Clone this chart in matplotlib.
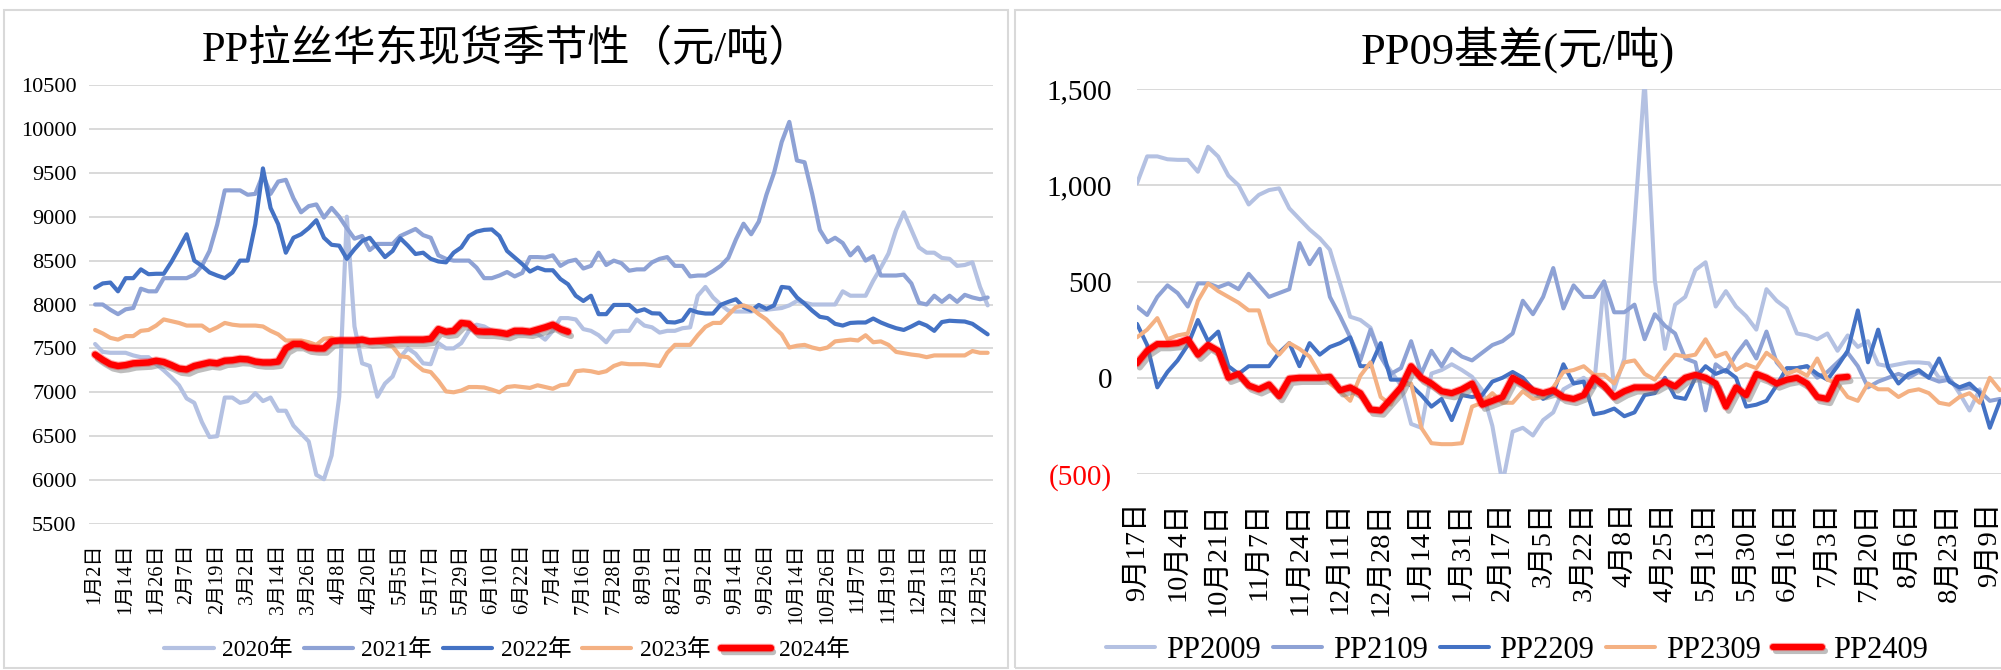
import matplotlib
matplotlib.use('Agg')
import matplotlib.pyplot as plt
import matplotlib.patheffects as pe
from matplotlib.patches import Rectangle
import numpy as np

FONT = ['Liberation Serif', 'Noto Sans CJK SC']
plt.rcParams['font.family'] = FONT

# ---------------- data: left chart (PP拉丝华东现货季节性) ----------------
left_title = 'PP拉丝华东现货季节性（元/吨）'
left_xlabels = ['1月2日', '1月14日', '1月26日', '2月7日', '2月19日', '3月2日', '3月14日',
                '3月26日', '4月8日', '4月20日', '5月5日', '5月17日', '5月29日', '6月10日',
                '6月22日', '7月4日', '7月16日', '7月28日', '8月9日', '8月21日', '9月2日',
                '9月14日', '9月26日', '10月14日', '10月26日', '11月7日', '11月19日',
                '12月1日', '12月13日', '12月25日']
left_yticks = [5500, 6000, 6500, 7000, 7500, 8000, 8500, 9000, 9500, 10000, 10500]

y2020 = [7550, 7460, 7450, 7450, 7450, 7420, 7400, 7400, 7320, 7250,
         7170, 7080, 6930, 6880, 6660, 6490, 6500, 6940, 6940, 6880,
         6900, 6990, 6900, 6940, 6790, 6790, 6620, 6530, 6440, 6060,
         6010, 6280, 6950, 9000, 7750, 7330, 7300, 6950, 7100, 7180,
         7400, 7500, 7440, 7330, 7320, 7560, 7500, 7500, 7560, 7700,
         7770, 7750, 7700, 7670, 7670, 7670, 7670, 7670, 7665,
         7600, 7700, 7845, 7845, 7830, 7720, 7700, 7650, 7570, 7690, 7700,
         7700, 7830, 7760, 7740, 7680, 7700, 7700, 7730, 7740, 8100,
         8200, 8080, 8000, 7930, 7920, 7920, 7920, 7940, 7940, 7950,
         7960, 7990, 8040, 8020, 8000, 8000, 8000, 8000, 8150, 8100,
         8100, 8100, 8270, 8420, 8580, 8850, 9050, 8850, 8650, 8590,
         8590, 8530, 8520, 8440, 8450, 8480, 8200, 7990]
y2021 = [8000, 8000, 7940, 7890, 7945, 7960, 8180, 8150, 8150, 8300,
         8300, 8300, 8300, 8340, 8440, 8610, 8910, 9300, 9300, 9300,
         9250, 9260, 9480, 9260, 9400, 9420, 9210, 9050, 9120, 9140,
         8990, 9100, 9000, 8870, 8750, 8780, 8620, 8690, 8690, 8690,
         8780, 8820, 8860, 8790, 8760, 8560, 8520, 8500, 8500, 8500,
         8420, 8300, 8300, 8330, 8370, 8320, 8360, 8540, 8540,
         8535, 8560, 8440, 8490, 8510, 8410, 8440, 8590, 8450, 8500, 8470,
         8385, 8400, 8400, 8480, 8520, 8540, 8440, 8440, 8320, 8330,
         8330, 8380, 8440, 8530, 8740, 8920, 8800, 8945, 9250, 9500,
         9850, 10080, 9640, 9620, 9260, 8850, 8710, 8760, 8700, 8560,
         8650, 8500, 8550, 8330, 8330, 8330, 8340, 8240, 8020, 8000,
         8100, 8030, 8100, 8030, 8110, 8080, 8060, 8080]
y2022 = [8190, 8240, 8250, 8150, 8300, 8300, 8400, 8345, 8350, 8350,
         8485, 8640, 8800, 8500, 8440, 8365, 8330, 8300, 8365, 8500,
         8500, 8915, 9550, 9100, 8915, 8590, 8760, 8800, 8870, 8960,
         8760, 8680, 8670, 8520, 8630, 8725, 8760, 8650, 8540, 8610,
         8755, 8670, 8575, 8590, 8520, 8490, 8480, 8590, 8650, 8780,
         8830, 8850, 8855, 8780, 8610, 8535, 8460, 8375, 8420,
         8390, 8390, 8290, 8230, 8100, 8040, 8100, 7890, 7890, 7995, 7995,
         7995, 7920, 7945, 7900, 7897, 7800, 7795, 7820, 7940, 7910,
         7897, 7897, 7996, 8030, 8060, 7970, 7930, 7995, 7950, 7990,
         8200, 8190, 8080, 8010, 7930, 7860, 7845, 7780, 7760, 7790,
         7795, 7795, 7840, 7795, 7760, 7730, 7710, 7750, 7795, 7760,
         7700, 7800, 7815, 7810, 7806, 7780, 7720, 7660]
y2023 = [7710, 7670, 7620, 7600, 7640, 7640, 7700, 7710, 7760, 7830,
         7810, 7790, 7760, 7760, 7760, 7700, 7740, 7790, 7770, 7760,
         7760, 7760, 7750, 7700, 7660, 7590, 7590, 7590, 7570, 7540,
         7610, 7620, 7590, 7590, 7600, 7600, 7590, 7570, 7550, 7520,
         7410, 7400, 7320, 7250, 7230, 7130, 7010, 7000, 7020, 7060,
         7060, 7055, 7030, 7000, 7060, 7070, 7060, 7050, 7080,
         7060, 7040, 7080, 7090, 7240, 7250, 7240, 7220, 7240, 7300, 7330,
         7320, 7320, 7320, 7310, 7300, 7450, 7540, 7540, 7540, 7650,
         7745, 7790, 7790, 7880, 7970, 7990, 7960, 7890, 7830, 7740,
         7660, 7510, 7530, 7540, 7510, 7490, 7510, 7580, 7590, 7600,
         7590, 7650, 7570, 7580, 7540, 7460, 7445, 7430, 7420, 7400,
         7420, 7420, 7420, 7420, 7420, 7470, 7450, 7450]
y2024 = [7430, 7370, 7320, 7300, 7310, 7330, 7335, 7340, 7360, 7345,
         7310, 7270, 7260, 7300, 7320, 7340, 7330, 7360, 7365, 7380,
         7375, 7350, 7340, 7340, 7350, 7500, 7550, 7550, 7510, 7500,
         7500, 7580, 7590, 7590, 7590, 7600, 7580, 7585, 7590, 7595,
         7600, 7600, 7600, 7600, 7610, 7720, 7690, 7700, 7790, 7780,
         7695, 7690, 7690, 7680, 7665, 7700, 7700, 7690, 7715,
         7740, 7770, 7720, 7690]
left_series = ['2020年', '2021年', '2022年', '2023年', '2024年']

# ---------------- data: right chart (PP09基差) ----------------
right_title = 'PP09基差(元/吨)'
right_xlabels = ['9月17日', '10月4日', '10月21日', '11月7日', '11月24日', '12月11日',
                 '12月28日', '1月14日', '1月31日', '2月17日', '3月5日', '3月22日',
                 '4月8日', '4月25日', '5月13日', '5月30日', '6月16日', '7月3日',
                 '7月20日', '8月6日', '8月23日', '9月9日']
right_yticks = [-500, 0, 500, 1000, 1500]

pp2009 = [1010, 1150, 1150, 1135, 1132, 1132, 1070, 1200, 1149, 1050,
          1000, 900, 950, 975, 984, 880, 825, 770, 725, 665,
          490, 317, 300, 260, 110, 35, -40, -240, -260, 22,
          40, 70, 40, 5, -65, -250, -550, -280, -260, -300,
          -220, -180, -60, -30, 0, -50, 500, -60, 100, 800,
          1550, 507, 150, 380, 420, 560, 600, 370, 450, 370,
          320, 250, 460, 400, 360, 230, 220, 200, 230, 140,
          220, 160, 190, 70, 60, 70, 80, 80, 75, 0,
          0, -80, -170, -60]
pp2109 = [369, 326, 420, 480, 440, 370, 490, 490, 470, 490,
          460, 540, 480, 420, 440, 460, 700, 590, 670, 420,
          320, 210, 90, 250, 110, 20, 50, 190, 20, 140,
          60, 150, 110, 90, 130, 170, 190, 230, 400, 330,
          420, 570, 360, 480, 420, 420, 500, 340, 340, 380,
          200, 330, 270, 230, 100, 80, -170, 70, 30, 120,
          190, 100, 240, 80, 20, 50, 60, 0, 30, 80,
          130, 60, -50, -20, 0, 20, 0, 30, 0, -20,
          -10, -60, -50, -70, -120, -110]
pp2209 = [280, 170, -50, 30, 90, 170, 300, 190, 240, 60,
          20, 60, 60, 60, 130, 180, 60, 180, 120, 160,
          180, 210, 60, 60, 180, -10, -10, -40, -90, -150,
          -110, -220, -90, -100, -90, -20, 0, 30, 0, -60,
          -110, -80, 70, -30, -20, -190, -180, -160, -200, -180,
          -90, -80, 0, -100, -110, 0, 60, 20, 40, 0,
          -150, -140, -120, -40, 50, 50, 60, 20, -10, 60,
          140, 350, 80, 250, 50, -30, 20, 40, 0, 100,
          -20, -50, -30, -80, -260, -120]
pp2309 = [210, 250, 310, 200, 220, 230, 400, 490, 450, 420,
          390, 350, 350, 180, 120, 180, 150, 110, 20, -30,
          -70, -120, 10, 80, -100, -140, -40, -30, -260, -340,
          -345, -345, -340, -150, -130, -80, -130, -130, -70, -110,
          -100, -50, 30, 40, 60, 15, 15, -30, 80, 90,
          20, -10, 60, 120, 110, 120, 200, 110, 130, 40,
          70, 50, 130, 90, 20, 40, 10, 100, -10, -30,
          -100, -120, -30, -60, -60, -100, -70, -60, -80, -130,
          -140, -100, -80, -130, 0, -65]
pp2409 = [75, 140, 175, 175, 180, 200, 120, 170, 140, 0,
          20, -40, -60, -35, -95, -5, 0, 0, 0, 5,
          -65, -50, -80, -165, -170, -110, -50, 60, 0, -30,
          -70, -80, -60, -30, -140, -120, -100, 0, -30, -65,
          -80, -65, -100, -110, -90, 0, -40, -100, -70, -50,
          -50, -50, -20, -45, 0, 15, 0, -30, -150, -50,
          -90, 20, 0, -30, -10, 0, -30, -100, -110, 0,
          5]
right_series = ['PP2009', 'PP2109', 'PP2209', 'PP2309', 'PP2409']

# ---------------- styles ----------------
colors = ['#B4C1E2', '#8EA2D5', '#4472C4', '#F4B183', '#FF0000']
GRID = '#D9D9D9'
W, H = 2001, 670

def red_effects(lw):
    return [pe.SimpleLineShadow(offset=(2, -3), shadow_color='#7f7f7f', alpha=0.5),
            pe.Stroke(linewidth=lw + 1.5, foreground='#FF0000', alpha=0.35),
            pe.Normal()]

fig = plt.figure(figsize=(W / 100, H / 100), dpi=100)

# chart area borders
fig.add_artist(Rectangle((4 / W, 2 / H), (1008 - 4) / W, (660 - 2) / H, transform=fig.transFigure,
                         fill=False, ec=GRID, lw=1.5))
fig.add_artist(Rectangle((1015 / W, 2 / H), (2030 - 1015) / W, (660 - 2) / H, transform=fig.transFigure,
                         fill=False, ec=GRID, lw=1.5))

# ---------------- left chart ----------------
ax1 = fig.add_axes([89 / W, 1 - 524 / H, (993 - 89) / W, (524 - 85) / H])
left_data = [y2020, y2021, y2022, y2023, y2024]
handles1 = []
for i, (name, ys) in enumerate(zip(left_series, left_data)):
    lw = 4.6 if i == 4 else 3.0
    ln, = ax1.plot(np.arange(len(ys)), ys, color=colors[i], lw=lw, label=name,
                   solid_joinstyle='round', solid_capstyle='round', zorder=2 + i)
    if i == 4:
        ln.set_path_effects(red_effects(lw))
    handles1.append(ln)
ax1.set_xlim(-0.8, 117.7)
ax1.set_ylim(5500, 10500)
ax1.set_yticks(left_yticks)
ax1.set_yticklabels([str(v) for v in left_yticks], fontsize=16)
ax1.set_xticks(np.arange(0, 4 * len(left_xlabels), 4))
ax1.set_xticklabels(left_xlabels, rotation=90, fontsize=14.5)
ax1.tick_params(axis='both', length=0)
ax1.tick_params(axis='y', pad=9)
ax1.tick_params(axis='x', pad=14)
ax1.grid(axis='y', color=GRID, lw=1.4)
ax1.set_axisbelow(True)
for s in ax1.spines.values():
    s.set_visible(False)

fig.text(507 / W, 1 - 50 / H, left_title, ha='center', va='center', fontsize=30.5)
leg1 = ax1.legend(handles=handles1, loc='center', bbox_to_anchor=(507 / W, 1 - 650 / H),
                  bbox_transform=fig.transFigure, ncol=5, frameon=False, fontsize=17,
                  handlelength=2.1, handletextpad=0.35, columnspacing=0.45)

# ---------------- right chart ----------------
ax2 = fig.add_axes([1137 / W, 1 - 474 / H, (W - 1137) / W, (474 - 89) / H])
right_data = [pp2009, pp2109, pp2209, pp2309, pp2409]
handles2 = []
for i, (name, ys) in enumerate(zip(right_series, right_data)):
    lw = 4.4 if i == 4 else 2.9
    ln, = ax2.plot(np.arange(len(ys)), ys, color=colors[i], lw=lw, label=name,
                   solid_joinstyle='round', solid_capstyle='round', zorder=2 + i)
    if i == 4:
        ln.set_path_effects(red_effects(lw))
    handles2.append(ln)
ax2.set_xlim(0, 85.1)
ax2.set_ylim(-500, 1500)

def fmt(v):
    return '({:,})'.format(-v) if v < 0 else '{:,}'.format(v)

ax2.set_yticks(right_yticks)
ax2.set_yticklabels([fmt(v) for v in right_yticks], fontsize=21)
for lab, v in zip(ax2.get_yticklabels(), right_yticks):
    if v < 0:
        lab.set_color('#FF0000')
ax2.set_xticks(np.arange(0, 4 * len(right_xlabels), 4))
ax2.set_xticklabels(right_xlabels, rotation=90, fontsize=20.5)
ax2.tick_params(axis='both', length=0)
ax2.tick_params(axis='y', pad=18)
ax2.tick_params(axis='x', pad=20)
ax2.grid(axis='y', color=GRID, lw=1.4)
ax2.set_axisbelow(True)
for s in ax2.spines.values():
    s.set_visible(False)

fig.text(1518 / W, 1 - 50 / H, right_title, ha='center', va='center', fontsize=32)
leg2 = ax2.legend(handles=handles2, loc='center', bbox_to_anchor=(1517 / W, 1 - 650 / H),
                  bbox_transform=fig.transFigure, ncol=5, frameon=False, fontsize=22,
                  handlelength=1.6, handletextpad=0.35, columnspacing=0.4)

fig.savefig('out.png', dpi=100)
